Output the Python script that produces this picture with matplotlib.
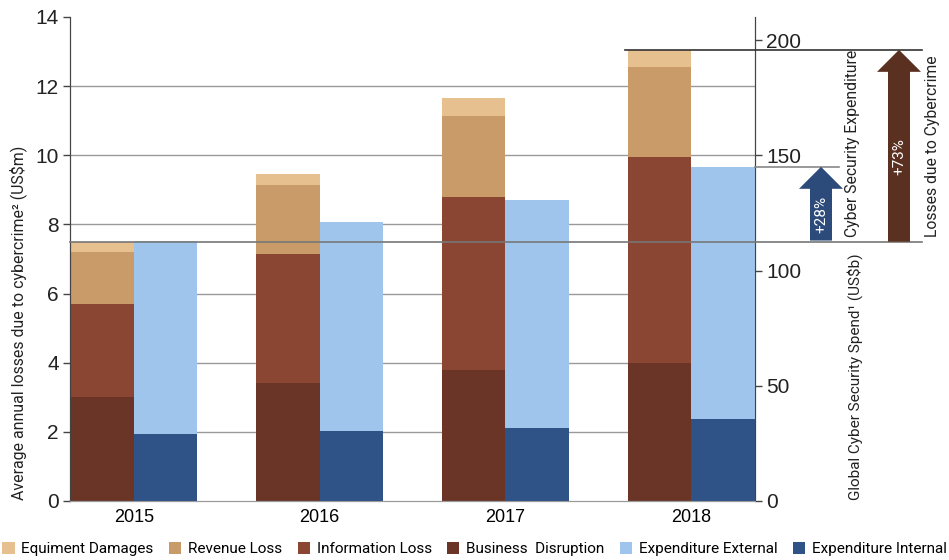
import matplotlib
matplotlib.use("Agg")
import matplotlib.pyplot as plt
from matplotlib.patches import Patch, Polygon
from matplotlib.lines import Line2D
import matplotlib.transforms as mtransforms

# ---------------- data ----------------
years = ["2015", "2016", "2017", "2018"]
business_disruption = [3.0, 3.4, 3.8, 4.0]
information_loss = [2.7, 3.75, 5.0, 5.95]
revenue_loss = [1.5, 2.0, 2.35, 2.6]
equipment_damages = [0.3, 0.3, 0.5, 0.5]
expenditure_internal = [29, 30.5, 31.5, 35.5]
expenditure_external = [84, 90.5, 99, 109.5]
left_ticks = [0, 2, 4, 6, 8, 10, 12, 14]
right_ticks = [0, 50, 100, 150, 200]
loss_labels = ["Equiment Damages", "Revenue Loss", "Information Loss", "Business  Disruption"]
exp_labels = ["Expenditure External", "Expenditure Internal"]
spend_growth = "+28%"
loss_growth = "+73%"

# ---------------- style ----------------
c_equip = "#e6c08f"
c_rev = "#c99b69"
c_info = "#8a4632"
c_bus = "#6a3527"
c_ext = "#a0c5ec"
c_int = "#2f5287"
c_arrow_blue = "#2d4b7a"
c_arrow_brown = "#5a3021"

narrow = ["Roboto", "DejaVu Sans"]
plain = "Liberation Sans"

W, H = 949, 560
fig = plt.figure(figsize=(W / 100, H / 100), dpi=100)
fig.patch.set_facecolor("white")
ax = fig.add_axes([70 / W, 59 / H, 685 / W, 484 / H])
ax2 = ax.twinx()

w = 0.343
x = list(range(len(years)))

# gridlines
for t in left_ticks[1:-1]:
    ax.axhline(t, color="#9a9a9a", lw=1.0, zorder=0)

# loss bars (left of year tick)
bottom = [0] * 4
for vals, col in [(business_disruption, c_bus), (information_loss, c_info),
                  (revenue_loss, c_rev), (equipment_damages, c_equip)]:
    ax.bar(x, vals, width=-w, align="edge", bottom=bottom, color=col, zorder=2, linewidth=0)
    bottom = [b + v for b, v in zip(bottom, vals)]
loss_total = bottom

# expenditure bars (right of year tick)
ax2.bar(x, expenditure_internal, width=w, align="edge", color=c_int, zorder=2, linewidth=0)
ax2.bar(x, expenditure_external, width=w, align="edge", bottom=expenditure_internal,
        color=c_ext, zorder=2, linewidth=0)
exp_total = [a + b for a, b in zip(expenditure_internal, expenditure_external)]

ax.set_xlim(-w, len(years) - 1 + w)
ax.set_ylim(0, 14)
ax2.set_ylim(0, 210)
ax.set_yticks(left_ticks)
ax2.set_yticks(right_ticks)
ax.set_xticks(x)
ax.set_xticklabels(years, fontsize=13, fontfamily=plain)
ax.tick_params(axis="x", length=0, pad=6)
ax.tick_params(axis="y", length=5, width=1, color="#444444", labelsize=15, pad=3)
ax2.tick_params(axis="y", length=5, width=1, color="#444444", labelsize=15, pad=3)
for lab in ax.get_yticklabels() + ax2.get_yticklabels():
    lab.set_fontfamily(plain)
    lab.set_color("#222222")

for a in (ax, ax2):
    a.spines["top"].set_visible(False)
    a.spines["left"].set_color("#444444")
    a.spines["right"].set_color("#444444")
    a.spines["bottom"].set_color("#9a9a9a")
    a.patch.set_alpha(0)
ax2.set_zorder(ax.get_zorder() + 1)

# reference lines extending to the annotation area
tr_loss = mtransforms.blended_transform_factory(ax.transAxes, ax.transData)
tr_exp = mtransforms.blended_transform_factory(ax.transAxes, ax2.transData)
x_end = (922 - 70) / 685
ax2.add_line(Line2D([0, x_end], [loss_total[0]] * 2, transform=tr_loss, color="#777777",
                    lw=1.2, clip_on=False, zorder=5))
ax2.add_line(Line2D([0.81, x_end], [loss_total[-1]] * 2, transform=tr_loss, color="#333333",
                    lw=1.2, clip_on=False, zorder=5))
ax2.add_line(Line2D([1.0, (839 - 70) / 685], [exp_total[-1]] * 2, transform=tr_exp,
                    color="#888888", lw=1.2, clip_on=False, zorder=5))


def up_arrow(xfrac, y0, y1, tr, color, body=22, head_w=44, head_l=22):
    px0 = tr.transform((xfrac, y0))
    px1 = tr.transform((xfrac, y1))
    xc, yb, yt = px0[0], px0[1], px1[1]
    pts = [(xc - body / 2, yb), (xc + body / 2, yb), (xc + body / 2, yt - head_l),
           (xc + head_w / 2, yt - head_l), (xc, yt), (xc - head_w / 2, yt - head_l),
           (xc - body / 2, yt - head_l)]
    poly = Polygon(pts, closed=True, facecolor=color, edgecolor="none",
                   transform=mtransforms.IdentityTransform(), clip_on=False, zorder=6)
    fig.add_artist(poly)
    return xc, (yb + yt - head_l) / 2


bx, by = up_arrow((821 - 70) / 685, exp_total[0], exp_total[-1], tr_exp, c_arrow_blue)
rx, ry = up_arrow((899 - 70) / 685, loss_total[0], loss_total[-1], tr_loss, c_arrow_brown)
fig.text(bx / W, by / H, spend_growth, rotation=90, ha="center", va="center",
         color="white", fontsize=11, fontfamily=narrow, zorder=10)
fig.text(rx / W, ry / H, loss_growth, rotation=90, ha="center", va="center",
         color="white", fontsize=11, fontfamily=narrow, zorder=10)

fig.text(853 / W, (H - 237) / H, "Cyber Security Expenditure", rotation=90, ha="center",
         va="bottom", fontsize=11.3, fontfamily=narrow, color="#222222", zorder=10)
fig.text(932 / W, (H - 237) / H, "Losses due to Cybercrime", rotation=90, ha="center",
         va="bottom", fontsize=11.3, fontfamily=narrow, color="#222222", zorder=10)

# axis labels
fig.text(18 / W, (H - 500) / H, "Average annual losses due to cybercrime² (US$m)",
         rotation=90, ha="center", va="bottom", fontsize=11.4, fontfamily=narrow,
         color="#222222")
fig.text(855 / W, (H - 500) / H, "Global Cyber Security Spend¹ (US$b)",
         rotation=90, ha="center", va="bottom", fontsize=11.0, fontfamily=narrow,
         color="#222222")

# legend
handles = [Patch(facecolor=c, edgecolor="none") for c in
           [c_equip, c_rev, c_info, c_bus, c_ext, c_int]]
labels = loss_labels + exp_labels
fig.legend(handles, labels, loc="center", bbox_to_anchor=(0.5, 11 / H), ncol=6,
           frameon=False, handlelength=0.8, handleheight=0.9, handletextpad=0.45,
           columnspacing=1.0, borderpad=0, prop={"family": narrow, "size": 11})

fig.savefig("out.png", dpi=100)
